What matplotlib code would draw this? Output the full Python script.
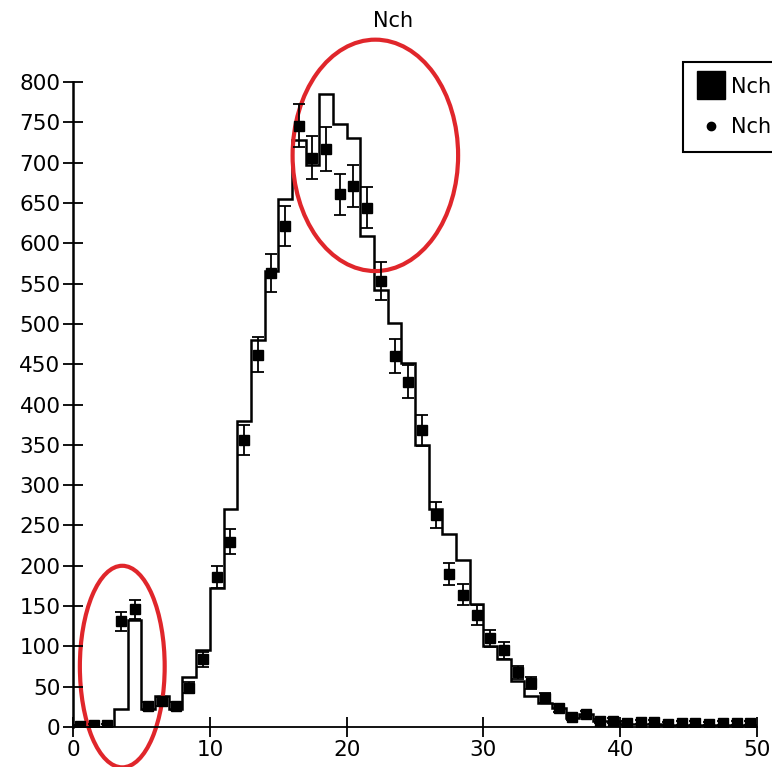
import numpy as np
import matplotlib
matplotlib.use("Agg")
import matplotlib.pyplot as plt
from matplotlib.patches import Ellipse
from matplotlib.lines import Line2D

# bins of width 1 from 0 to 50
bin_edges = np.arange(0, 51)
hist_counts = [0, 0, 0, 22, 133, 22, 38, 22, 62, 95,
               172, 270, 380, 480, 565, 655, 728, 697, 785, 748,
               730, 609, 542, 501, 452, 350, 270, 240, 207, 152,
               100, 84, 57, 38, 30, 23, 11, 16, 8, 7,
               4, 4, 4, 3, 3, 3, 3, 3, 3, 3]
data_counts = [1, 2, 2, 131, 146, 26, 32, 26, 49, 84,
               186, 230, 356, 462, 563, 621, 746, 706, 717, 661,
               671, 644, 553, 460, 428, 368, 263, 190, 164, 139,
               110, 95, 68, 55, 36, 24, 12, 16, 7, 8,
               5, 6, 6, 4, 5, 5, 4, 5, 5, 5]
data_errors = [1, 1.5, 1.5, 11.5, 12, 5, 5.5, 5, 7, 9,
               13.5, 15, 19, 21.5, 23.5, 25, 27, 26.5, 27, 25.5,
               26, 25.5, 23.5, 21.5, 20.5, 19, 16, 14, 13, 12,
               10.5, 10, 8, 7.5, 6, 5, 3.5, 4, 2.5, 3,
               2, 2.5, 2.5, 2, 2, 2, 2, 2, 2, 2]
title = "Nch"
legend_labels = ["Nch", "Nch"]

fig = plt.figure(figsize=(7.72, 7.67), dpi=100)
ax = fig.add_axes([0.0946, 0.0521, 0.886, 0.841])

centers = bin_edges[:-1] + 0.5
ax.stairs(hist_counts, bin_edges, color="black", linewidth=1.8)
ax.errorbar(centers, data_counts, yerr=data_errors, fmt="s", color="black",
            markersize=7, elinewidth=1.3, capsize=4.5, capthick=1.3)

ax.set_xlim(0, 50)
ax.set_ylim(0, 800)
ax.set_xticks(np.arange(0, 51, 10))
ax.set_yticks(np.arange(0, 801, 50))
for s in ["top", "right"]:
    ax.spines[s].set_visible(False)
ax.spines["left"].set_linewidth(1.8)
ax.spines["bottom"].set_linewidth(1.3)
ax.tick_params(direction="inout", length=14, width=1.3, labelsize=15.5, pad=2)

# red annotation ellipses
ax.add_patch(Ellipse((3.6, 75), 6.2, 250, fill=False, edgecolor="#e0262b",
                     linewidth=3, clip_on=False))
ax.add_patch(Ellipse((22.1, 709), 12.1, 287, fill=False, edgecolor="#e0262b",
                     linewidth=3, clip_on=False))

fig.text(0.509, 0.972, title, ha="center", va="center", fontsize=15)

handles = [Line2D([], [], marker="s", color="black", linestyle="none", markersize=20),
           Line2D([], [], marker="o", color="black", linestyle="none", markersize=6)]
leg = fig.legend(handles, legend_labels, loc="upper left",
                 bbox_to_anchor=(683 / 772, 1 - 62 / 767),
                 bbox_transform=fig.transFigure, borderaxespad=0, fancybox=False,
                 fontsize=15, framealpha=1, edgecolor="black", borderpad=0.7,
                 handletextpad=0.3, labelspacing=1.0, handlelength=1.3)
leg.get_frame().set_linewidth(1.5)

fig.savefig("out.png", dpi=100)
